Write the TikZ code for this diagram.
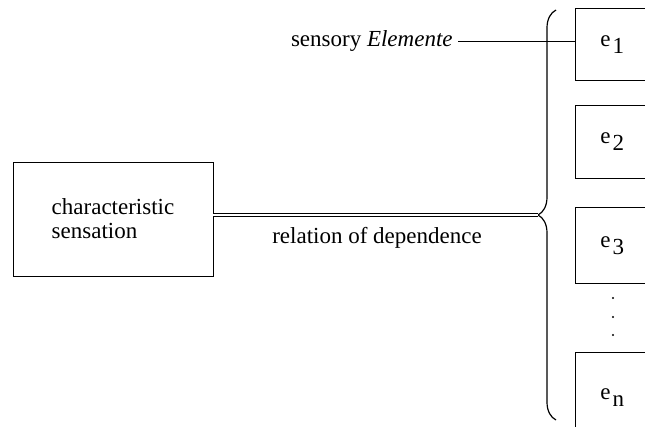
\documentclass[tikz,border=0pt]{standalone}
\usepackage{fontspec}
\setmainfont{Liberation Serif}
\usetikzlibrary{decorations.pathreplacing}
\newcommand{\esub}[1]{e\hspace{2pt}\raisebox{-7pt}{#1}}
\tikzset{
    elembox/.style={draw, anchor=north west, text width=60pt, align=left, inner xsep=25pt},
}
\begin{document}
\begin{tikzpicture}[x=1pt, y=-1pt, font=\fontsize{23}{24}\selectfont, line width=0.8pt]
    \useasboundingbox (0,0) rectangle (645,426);
    \clip (0,0) rectangle (645,426);
    \node [draw, minimum width=200pt, minimum height=114pt, align=left] (sens) at (113,219) {characteristic\\sensation};
    \node [elembox, minimum height=72pt] (e1) at (575,8) {\esub{1}};
    \node [elembox, minimum height=73pt] (e2) at (575,105) {\esub{2}};
    \node [elembox, minimum height=76pt] (e3) at (575,207) {\esub{3}};
    \node [elembox, minimum height=90pt] (en) at (575,352) {\esub{n}};
    \foreach \y in {298,317,335}
        \fill (613,\y) circle (1.2pt);
    \draw [line width=1.2pt, decorate, decoration={brace, amplitude=18pt}] (556,420) -- (556,10);
    \coordinate (tip) at (538,215);
    \draw [double, double distance=2.5pt, line width=0.6pt] (sens.east |- tip) -- (tip);
    \node [anchor=base] (rel) at (377,243) {relation of dependence};
    \node [anchor=east, inner sep=2pt] (label) at (455,41) {sensory \textit{Elemente}};
    \draw (label.east) ++(3,0) -- (label.east -| e1.west);
\end{tikzpicture}
\end{document}
